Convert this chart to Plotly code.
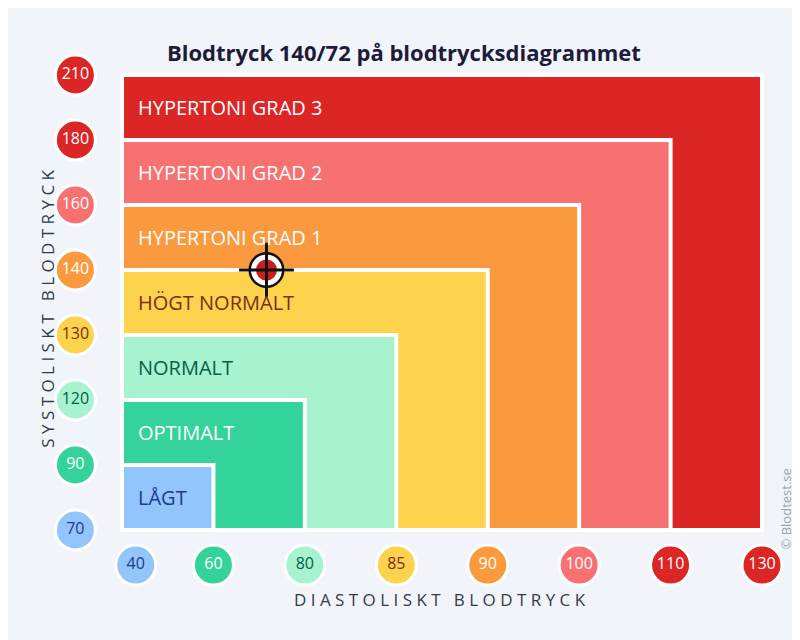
import plotly.graph_objects as go

categories = ["LÅGT", "OPTIMALT", "NORMALT", "HÖGT NORMALT", "HYPERTONI GRAD 1", "HYPERTONI GRAD 2", "HYPERTONI GRAD 3"]
fills = ["#93c5fd", "#34d399", "#a7f3d0", "#fdd34e", "#fb993e", "#f87171", "#dc2626"]
text_colors = ["#1e3a8a", "#ffffff", "#065f46", "#7c2d12", "#ffffff", "#ffffff", "#ffffff"]
dia_ticks = ["40", "60", "80", "85", "90", "100", "110", "130"]
sys_ticks = ["70", "90", "120", "130", "140", "160", "180", "210"]
tick_colors = ["#93c5fd", "#34d399", "#a7f3d0", "#fdd34e", "#fb993e", "#f87171", "#dc2626", "#dc2626"]
tick_text = ["#1e3a8a", "#ffffff", "#065f46", "#7c2d12", "#ffffff", "#ffffff", "#ffffff", "#ffffff"]
reading_sys, reading_dia = 140, 72
reading_pos = (1.58, 4)  # position on category scale

fig = go.Figure()
for i in range(len(categories), 0, -1):
    fig.add_shape(type="rect", x0=0, y0=0, x1=i, y1=i, fillcolor=fills[i-1],
                  line=dict(color="white", width=4), layer="below")
    fig.add_annotation(x=0.15, y=i-0.5, text=categories[i-1], showarrow=False, xanchor="left",
                       font=dict(size=20, color=text_colors[i-1], family="Open Sans"))

xs = [0.15] + list(range(1, 8))
fig.add_trace(go.Scatter(x=xs, y=[-0.54]*8, mode="markers+text", text=dia_ticks,
    marker=dict(size=40, color=tick_colors, line=dict(color="white", width=3)),
    textfont=dict(size=16, color=tick_text, family="Open Sans"), hoverinfo="skip"))
fig.add_trace(go.Scatter(x=[-0.51]*8, y=list(range(8)), mode="markers+text", text=sys_ticks,
    marker=dict(size=40, color=tick_colors, line=dict(color="white", width=3)),
    textfont=dict(size=16, color=tick_text, family="Open Sans"), hoverinfo="skip"))

rx, ry = reading_pos
for dx, dy in [(-0.3, 0), (0.3, 0), (0, -0.42), (0, 0.42)]:
    fig.add_shape(type="line", x0=rx, y0=ry, x1=rx+dx, y1=ry+dy, line=dict(color="#111", width=3))
fig.add_trace(go.Scatter(x=[rx], y=[ry], mode="markers",
    marker=dict(size=34, color="#c81e1e", line=dict(color="#111", width=0)), hoverinfo="skip"))
fig.add_trace(go.Scatter(x=[rx], y=[ry], mode="markers",
    marker=dict(size=32, color="rgba(0,0,0,0)", line=dict(color="#111", width=4)), hoverinfo="skip"))
fig.add_trace(go.Scatter(x=[rx], y=[ry], mode="markers",
    marker=dict(size=26, color="rgba(0,0,0,0)", line=dict(color="white", width=5)), hoverinfo="skip"))

fig.add_annotation(xref="paper", yref="paper", x=0.495, y=0.958, text=f"<b>Blodtryck {reading_sys}/{reading_dia} på blodtrycksdiagrammet</b>",
                   showarrow=False, font=dict(size=22, color="#1e1b3a", family="Open Sans"))
fig.add_annotation(xref="paper", yref="paper", x=0.54, y=0.054, text="D I A S T O L I S K T   B L O D T R Y C K",
                   showarrow=False, font=dict(size=17, color="#333a4a", family="Open Sans"))
fig.add_annotation(xref="paper", yref="paper", x=0.033, y=0.53, text="S Y S T O L I S K T   B L O D T R Y C K",
                   textangle=-90, showarrow=False, font=dict(size=17, color="#333a4a", family="Open Sans"))
fig.add_annotation(xref="paper", yref="paper", x=0.985, y=0.15, text="© Blodtest.se",
                   textangle=-90, showarrow=False, font=dict(size=13, color="#9ca3af", family="Open Sans"))

fig.update_layout(width=800, height=640, margin=dict(l=0, r=0, t=0, b=0), showlegend=False,
                  paper_bgcolor="#f1f5f9", plot_bgcolor="#f1f5f9",
                  xaxis=dict(range=[-1.247, 7.503], visible=False, fixedrange=True),
                  yaxis=dict(range=[-1.815, 8.03], visible=False, fixedrange=True))
fig.write_html("out.html")
